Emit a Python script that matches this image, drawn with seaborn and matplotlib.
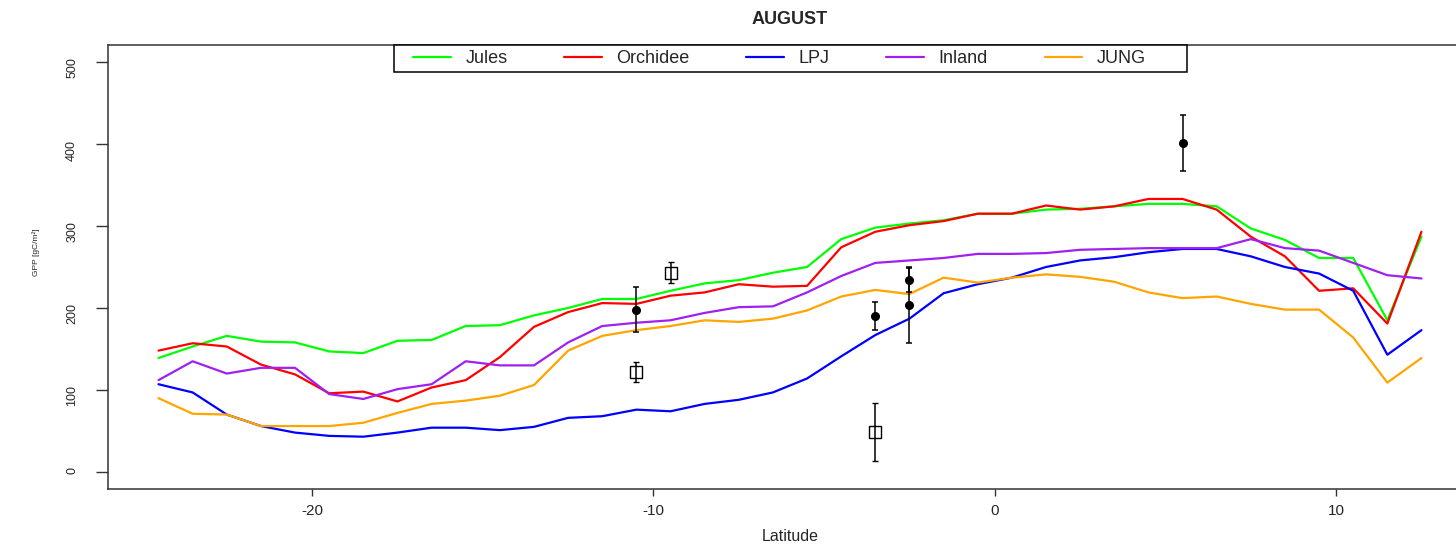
import numpy as np
import pandas as pd
import seaborn as sns
import matplotlib
matplotlib.use("Agg")
from matplotlib import pyplot as plt
from matplotlib.lines import Line2D
from matplotlib.patches import Rectangle

# latitude bands (centres)
lat = [-24.5, -23.5, -22.5, -21.5, -20.5, -19.5, -18.5, -17.5, -16.5, -15.5,
       -14.5, -13.5, -12.5, -11.5, -10.5, -9.5, -8.5, -7.5, -6.5, -5.5,
       -4.5, -3.5, -2.5, -1.5, -0.5, 0.5, 1.5, 2.5, 3.5, 4.5,
       5.5, 6.5, 7.5, 8.5, 9.5, 10.5, 11.5, 12.5]

jules = [139, 153, 166, 159, 158, 147, 145, 160, 161, 178,
         179, 191, 200, 211, 211, 221, 230, 234, 243, 250,
         284, 298, 303, 307, 315, 315, 320, 321, 324, 327,
         327, 324, 297, 283, 261, 261, 185, 287]
orchidee = [148, 157, 153, 131, 119, 96, 98, 86, 103, 112,
            140, 177, 195, 206, 205, 215, 219, 229, 226, 227,
            274, 293, 301, 306, 315, 315, 325, 320, 324, 333,
            333, 320, 287, 263, 221, 224, 181, 293]
lpj = [107, 97, 70, 56, 48, 44, 43, 48, 54, 54,
       51, 55, 66, 68, 76, 74, 83, 88, 97, 114,
       141, 167, 187, 218, 229, 237, 250, 258, 262, 268,
       272, 272, 263, 250, 242, 221, 143, 173]
inland = [112, 135, 120, 127, 127, 95, 89, 101, 107, 135,
          130, 130, 158, 178, 182, 185, 194, 201, 202, 219,
          239, 255, 258, 261, 266, 266, 267, 271, 272, 273,
          273, 273, 284, 273, 270, 255, 240, 236]
jung = [90, 71, 70, 56, 56, 56, 60, 72, 83, 87,
        93, 106, 148, 166, 173, 178, 185, 183, 187, 197,
        214, 222, 217, 237, 231, 237, 241, 238, 232, 219,
        212, 214, 205, 198, 198, 164, 109, 139]

# site observations with error bars
obs_filled_lat = [-10.5, -3.5, -2.5, -2.5, 5.5]
obs_filled_gpp = [198, 190, 234, 203.5, 401]
obs_filled_err = [27, 17, 15, 46, 34.5]
obs_open_lat = [-10.5, -9.5, -3.5]
obs_open_gpp = [122, 243, 49]
obs_open_err = [12.5, 13, 35.5]

models = ["Jules", "Orchidee", "LPJ", "Inland", "JUNG"]
colours = ["#00FF00", "#FF0000", "#0000FF", "#A020F0", "#FFA500"]
series = [jules, orchidee, lpj, inland, jung]

df = pd.concat([pd.DataFrame({"lat": lat, "gpp": s, "model": m})
                for m, s in zip(models, series)], ignore_index=True)

sns.set_style("white")
plt.rcParams['font.family'] = ['Liberation Sans', 'DejaVu Sans']
plt.rcParams['axes.unicode_minus'] = False

W, H = 1456, 545
fig = plt.figure(figsize=(W / 100, H / 100), dpi=100)
ax = fig.add_axes([108 / W, 56 / H, 1364 / W, 444 / H])

sns.lineplot(data=df, x="lat", y="gpp", hue="model", hue_order=models,
             palette=dict(zip(models, colours)), estimator=None, sort=False,
             linewidth=1.6, legend=False, ax=ax)

ax.errorbar(obs_filled_lat, obs_filled_gpp, yerr=obs_filled_err, fmt='o',
            color='black', ms=5.5, capsize=2.5, elinewidth=1.1, capthick=1.1)
ax.errorbar(obs_open_lat, obs_open_gpp, yerr=obs_open_err, fmt='s',
            color='black', mfc='none', mec='black', ms=8, mew=1.0,
            capsize=2.5, elinewidth=1.1, capthick=1.1)

ax.set_xlim(-25.98, 13.98)
ax.set_ylim(-20.8, 520.8)
ax.set_xticks([-20, -10, 0, 10])
ax.set_yticks([0, 100, 200, 300, 400, 500])

for side in ["left", "bottom", "top"]:
    ax.spines[side].set_color("#333333")
    ax.spines[side].set_linewidth(1.1)
ax.spines["right"].set_visible(False)

ax.tick_params(axis='y', length=8.5, width=1, pad=13, labelsize=9,
               labelrotation=90, color="#333333", left=True)
ax.tick_params(axis='x', length=5, width=1, pad=6, labelsize=11,
               color="#333333", bottom=True)

ax.set_xlabel("Latitude", fontsize=11.5)
ax.set_ylabel("GPP [gC/m²]", fontsize=6)
ax.xaxis.set_label_coords(0.5, -0.09)
ax.yaxis.set_label_coords(-0.050, 0.534)
ax.set_title("AUGUST", fontsize=13, fontweight='bold', pad=15)

# legend box (R style, top centre)
ax.add_patch(Rectangle((0.2097, 0.9392), 0.5814, 0.0608, transform=ax.transAxes,
                       facecolor='white', edgecolor='black', lw=1.1,
                       zorder=5, clip_on=False))
handles = [Line2D([], [], color=c, lw=1.6) for c in colours]
leg = ax.legend(handles, models, ncol=5, mode="expand", loc="center",
                bbox_to_anchor=(0.2236, 0.9392, 0.5374, 0.0608),
                borderaxespad=0, borderpad=0, fontsize=13, handlelength=2.1,
                handletextpad=0.8, frameon=False)
leg.set_zorder(6)

fig.savefig("out.png", dpi=100)
